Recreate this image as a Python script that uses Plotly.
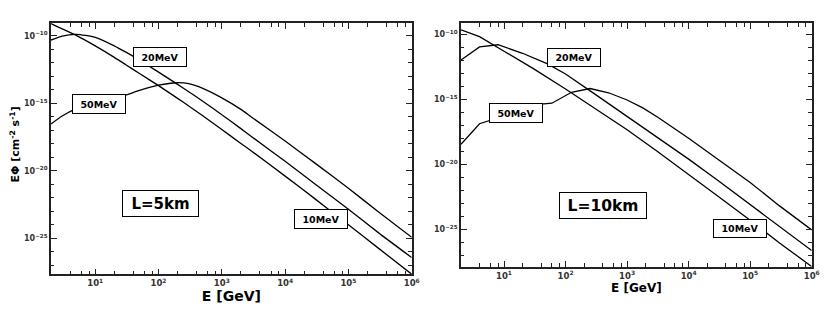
import plotly.graph_objects as go

# ---------------- data ----------------
# Left panel: L = 5 km
E_5km = [2, 3, 5, 10, 20, 30, 50, 100, 200, 300, 500, 1e3, 2e3, 3e3, 1e4, 3e4, 1e5, 3e5, 1e6]
flux_5km_10MeV = [8.1e-10, 3.2e-10, 1.07e-10, 1.78e-11, 2.5e-12, 7.4e-13, 1.58e-13, 2.0e-14,
                  2.3e-15, 6.3e-16, 1.17e-16, 1.12e-17, 1.05e-18, 2.7e-19, 4.0e-21, 7.9e-23,
                  1.0e-24, 1.78e-26, 2.2e-28]
flux_5km_20MeV = [4.8e-11, 9.5e-11, 1.26e-10, 7.6e-11, 1.78e-11, 6.3e-12, 1.58e-12, 2.0e-13,
                  2.5e-14, 7.1e-15, 1.41e-15, 1.41e-16, 1.32e-17, 3.2e-18, 5.0e-20, 1.0e-21,
                  1.41e-23, 2.5e-25, 3.7e-27]
flux_5km_50MeV = [2.9e-17, 1.12e-16, 4.0e-16, 1.2e-15, 2.6e-15, 4.0e-15, 8.9e-15, 2.2e-14,
                  3.3e-14, 2.8e-14, 1.26e-14, 2.5e-15, 3.5e-16, 8.9e-17, 1.58e-18, 3.5e-20,
                  5.0e-22, 8.9e-24, 1.17e-25]

# Right panel: L = 10 km
E_10km_10MeV = [2, 4, 10, 30, 100, 300, 1e3, 3e3, 1e4, 3e4, 1e5, 3e5, 1e6]
flux_10km_10MeV = [2.2e-10, 6.6e-11, 5.0e-12, 2.3e-13, 6.3e-15, 2.1e-16, 4.5e-18, 1.12e-19,
                   1.78e-21, 3.5e-23, 5.0e-25, 8.9e-27, 1.35e-28]
E_10km_20MeV = [2, 4, 8, 20, 50, 100, 300, 1e3, 3e3, 1e4, 3e4, 1e5, 3e5, 1e6]
flux_10km_20MeV = [1.05e-12, 1.07e-11, 1.58e-11, 3.5e-12, 5.6e-13, 8.9e-14, 2.5e-15, 5.0e-17,
                   1.41e-18, 2.5e-20, 5.6e-22, 7.9e-24, 1.58e-25, 2.3e-27]
E_10km_50MeV = [2, 4, 40, 60, 125, 250, 500, 1e3, 1.8e3, 3.2e3, 1e4, 3e4, 1e5, 3e5, 1e6]
flux_10km_50MeV = [3.5e-19, 1.32e-17, 4.2e-16, 5.0e-16, 3.5e-15, 6.8e-15, 3.2e-15, 8.9e-16,
                   2.2e-16, 4.0e-17, 1.0e-18, 2.5e-20, 4.0e-22, 6.3e-24, 8.9e-26]

# Tick positions and labels
x_tickvals = [10, 100, 1e3, 1e4, 1e5, 1e6]
x_ticktext = ["10<sup>1</sup>", "10<sup>2</sup>", "10<sup>3</sup>",
              "10<sup>4</sup>", "10<sup>5</sup>", "10<sup>6</sup>"]
y_tickvals = [1e-10, 1e-15, 1e-20, 1e-25]
y_ticktext = ["10<sup>−10</sup>", "10<sup>−15</sup>", "10<sup>−20</sup>", "10<sup>−25</sup>"]
x_minor = [m * d for d in [1, 10, 100, 1e3, 1e4, 1e5] for m in [2, 4, 6, 8]]
y_minor = [10.0 ** (-k) for k in range(8, 30)]

FONT = "DejaVu Sans"
AX = "#222222"
W, H = 830, 316
PAGE_MARGIN = 8  # default body margin of the html page


def px(x):
    return (x - PAGE_MARGIN) / W


def py(y):
    return 1 - (y - PAGE_MARGIN) / H


fig = go.Figure()
line = dict(color="black", width=1.3)

for E, F in [(E_5km, flux_5km_10MeV), (E_5km, flux_5km_20MeV), (E_5km, flux_5km_50MeV)]:
    fig.add_trace(go.Scatter(x=E, y=F, mode="lines", line=dict(line, shape="spline", smoothing=0.6),
                             xaxis="x", yaxis="y", showlegend=False, hoverinfo="skip"))
for E, F in [(E_10km_10MeV, flux_10km_10MeV), (E_10km_20MeV, flux_10km_20MeV),
             (E_10km_50MeV, flux_10km_50MeV)]:
    fig.add_trace(go.Scatter(x=E, y=F, mode="lines", line=line,
                             xaxis="x2", yaxis="y2", showlegend=False, hoverinfo="skip"))


def xaxis(domain, anchor, title_size, standoff):
    return dict(type="log", domain=domain, anchor=anchor, range=[0.301, 6], automargin=False,
                tickmode="array", tickvals=x_tickvals, ticktext=x_ticktext,
                ticks="inside", ticklen=6, tickwidth=1.2, tickcolor=AX,
                showline=True, linecolor=AX, linewidth=1.5, mirror="allticks",
                showgrid=False, zeroline=False,
                minor=dict(tickmode="array", tickvals=x_minor, ticks="inside",
                           ticklen=3.5, tickwidth=1, tickcolor=AX, showgrid=False),
                tickfont=dict(family=FONT, size=8.5, color="#333", weight="bold"),
                title=dict(text="E [GeV]", standoff=standoff,
                           font=dict(family=FONT, size=title_size, color="black", weight="bold")))


def yaxis(domain, anchor, rng):
    return dict(type="log", domain=domain, anchor=anchor, range=rng, automargin=False,
                tickmode="array", tickvals=y_tickvals, ticktext=y_ticktext,
                ticks="inside", ticklen=6, tickwidth=1.2, tickcolor=AX,
                showline=True, linecolor=AX, linewidth=1.5, mirror="allticks",
                showgrid=False, zeroline=False,
                minor=dict(tickmode="array", tickvals=y_minor, ticks="inside",
                           ticklen=3.5, tickwidth=1, tickcolor=AX, showgrid=False),
                tickfont=dict(family=FONT, size=8, color="#333", weight="bold"))


fig.update_layout(
    width=W, height=H, margin=dict(l=0, r=0, t=0, b=0, autoexpand=False),
    paper_bgcolor="white", plot_bgcolor="white",
    font=dict(family=FONT, color="black"),
    xaxis=xaxis([px(51), px(411.7)], "y", 14, 4),
    yaxis=yaxis([py(274.3), py(23.3)], "x", [-27.67, -9.08]),
    xaxis2=xaxis([px(461), px(811.7)], "y2", 12, 1),
    yaxis2=yaxis([py(266.7), py(23.3)], "x2", [-27.88, -9.15]),
)

# y-axis title of the left panel (kept inside the drawable area)
fig.add_annotation(text="EΦ [cm<sup>-2</sup> s<sup>-1</sup>]", xref="paper", yref="paper",
                   x=px(14.5), y=py(145), xanchor="center", yanchor="middle",
                   textangle=-90, showarrow=False,
                   font=dict(family=FONT, size=11, color="black", weight="bold"))


def box(text, cx, cy, w, h, size):
    fig.add_annotation(text=text, xref="paper", yref="paper", x=px(cx), y=py(cy),
                       xanchor="center", yanchor="middle", showarrow=False,
                       width=w, height=h, borderpad=0, borderwidth=1, bordercolor="black",
                       bgcolor="white", font=dict(family=FONT, size=size, color="black", weight="bold"))


box("20MeV", 160, 57, 52, 18, 9.5)
box("50MeV", 99, 104, 52, 18, 9.5)
box("10MeV", 321, 219, 52, 18, 9.5)
box("L=5km", 160, 203.5, 75, 25, 15)
box("20MeV", 574, 57.5, 52, 17, 9.5)
box("50MeV", 515.7, 113, 52, 18, 9.5)
box("10MeV", 740, 229, 52, 17, 9.5)
box("L=10km", 603, 205, 86, 25, 15.5)

fig.write_html("out.html")
